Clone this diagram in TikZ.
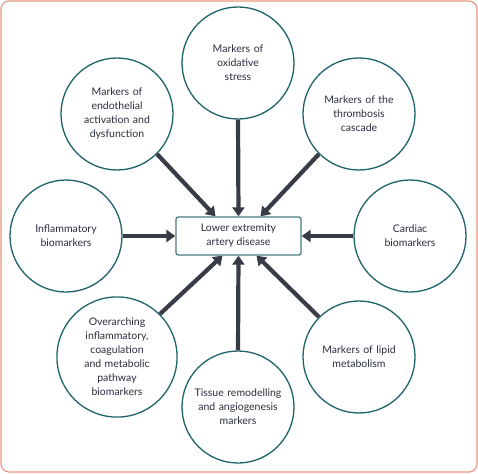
\documentclass[tikz,border=0pt]{standalone}
\usepackage{fontspec}
\setmainfont{Lato}
\usetikzlibrary{arrows.meta}
\definecolor{frame}{RGB}{234,150,125}
\definecolor{teal}{RGB}{30,100,104}
\definecolor{boxteal}{RGB}{70,125,128}
\definecolor{arr}{RGB}{55,60,70}
\definecolor{txt}{RGB}{40,45,60}
\tikzset{
  bio/.style={circle,draw=teal,line width=1.3pt,minimum size=112pt,inner sep=0pt,
    text width=92pt,align=center,font=\fontsize{10.5}{14}\selectfont,text=txt},
  hub/.style={rectangle,rounded corners=2pt,draw=boxteal,line width=1.3pt,minimum width=125pt,
    minimum height=38pt,align=center,font=\fontsize{10.5}{14}\selectfont,text=txt},
  feed/.style={draw=arr,line width=4.2pt,-{Triangle[width=12pt,length=9pt]}},
}
\begin{document}
\begin{tikzpicture}[x=1pt,y=-1pt]
\useasboundingbox (0,0) rectangle (478,473);
\draw[frame,line width=1.2pt,rounded corners=8pt] (1,1) rectangle (477,472);
\node[hub] (lead) at (238.5,236) {Lower extremity\\artery disease};
\node[bio] (ox) at (238,63) {Markers of\\oxidative\\stress};
\node[bio] (endo) at (117,114) {Markers of\\endothelial\\activation and\\dysfunction};
\node[bio] (thr) at (359,114) {Markers of the\\thrombosis\\cascade};
\node[bio] (infl) at (66,236) {Inflammatory\\biomarkers};
\node[bio] (card) at (410,236) {Cardiac\\biomarkers};
\node[bio] (over) at (117,357) {Overarching\\inflammatory,\\coagulation\\and metabolic\\pathway\\biomarkers};
\node[bio] (lip) at (359,357) {Markers of lipid\\metabolism};
\node[bio] (tis) at (238,407) {Tissue remodelling\\and angiogenesis\\markers};
\draw[feed] (ox.south) -- (lead.north);
\draw[feed] (endo.-45) -- ([xshift=-23pt]lead.north);
\draw[feed] (thr.225) -- ([xshift=22pt]lead.north);
\draw[feed] (infl.east) -- (lead.west);
\draw[feed] (card.west) -- (lead.east);
\draw[feed] (over.45) -- ([xshift=-16pt]lead.south);
\draw[feed] (lip.135) -- ([xshift=18pt]lead.south);
\draw[feed] (tis.north) -- (lead.south);
\end{tikzpicture}
\end{document}
